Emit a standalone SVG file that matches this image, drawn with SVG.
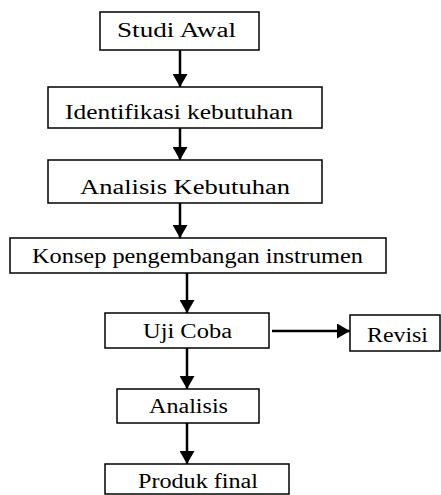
<svg xmlns="http://www.w3.org/2000/svg" width="441" height="495" viewBox="0 0 441 495">
<style>
.box{fill:#fff;stroke:#000;stroke-width:1.5}
.t{font-family:"Liberation Serif","Times New Roman",serif;font-size:20px;fill:#000}
.c{stroke:#000;stroke-width:2.5;fill:none;marker-end:url(#ah)}
</style>
<defs>
<marker id="ah" markerUnits="userSpaceOnUse" markerWidth="15" markerHeight="15" refX="13" refY="7.5" orient="auto">
<path d="M0,0 L13,7.5 L0,15 Z" fill="#000"/>
</marker>
</defs>
<rect width="441" height="495" fill="#fff"/>
<g id="connectors">
<line class="c" x1="180" y1="50" x2="180" y2="87"/>
<line class="c" x1="180" y1="128" x2="180" y2="160"/>
<line class="c" x1="180" y1="203" x2="180" y2="238"/>
<line class="c" x1="187" y1="273" x2="187" y2="313"/>
<line class="c" x1="272" y1="331" x2="350" y2="331"/>
<line class="c" x1="187" y1="348" x2="187" y2="389"/>
<line class="c" x1="187" y1="423" x2="187" y2="464"/>
</g>
<g id="studi-awal">
<rect class="box" x="100" y="12" width="159" height="38"/>
<text class="t" x="117" y="37" textLength="119" lengthAdjust="spacingAndGlyphs">Studi Awal</text>
</g>
<g id="identifikasi">
<rect class="box" x="48" y="87" width="274" height="41"/>
<text class="t" x="65" y="119" textLength="228" lengthAdjust="spacingAndGlyphs">Identifikasi kebutuhan</text>
</g>
<g id="analisis-kebutuhan">
<rect class="box" x="48" y="160" width="274" height="43"/>
<text class="t" x="80" y="194" textLength="210" lengthAdjust="spacingAndGlyphs">Analisis Kebutuhan</text>
</g>
<g id="konsep">
<rect class="box" x="10" y="238" width="376" height="35"/>
<text class="t" x="32" y="263" textLength="331" lengthAdjust="spacingAndGlyphs">Konsep pengembangan instrumen</text>
</g>
<g id="uji-coba">
<rect class="box" x="105" y="313" width="164" height="35"/>
<text class="t" x="143" y="338" textLength="89" lengthAdjust="spacingAndGlyphs">Uji Coba</text>
</g>
<g id="revisi">
<rect class="box" x="350" y="315" width="90" height="36"/>
<text class="t" x="367" y="342" textLength="61" lengthAdjust="spacingAndGlyphs">Revisi</text>
</g>
<g id="analisis">
<rect class="box" x="117" y="389" width="142" height="34"/>
<text class="t" x="149" y="413" textLength="79" lengthAdjust="spacingAndGlyphs">Analisis</text>
</g>
<g id="produk-final">
<rect class="box" x="105" y="464" width="184" height="30"/>
<text class="t" x="138" y="488" textLength="120" lengthAdjust="spacingAndGlyphs">Produk final</text>
</g>
</svg>
